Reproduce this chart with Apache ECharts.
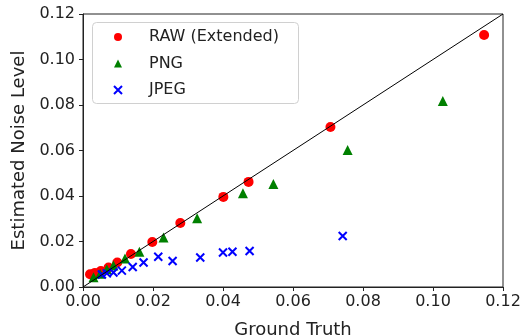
<!DOCTYPE html>
<html><head><meta charset="utf-8">
<script src="https://cdn.jsdelivr.net/npm/echarts@6/dist/echarts.min.js"></script>
<style>html,body{margin:0;padding:0;background:#fff}#c{width:526px;height:335px}</style>
</head><body><div id="c"></div>
<script>
var xTicks = [0, 0.02, 0.04, 0.06, 0.08, 0.10, 0.12];
var yTicks = [0, 0.02, 0.04, 0.06, 0.08, 0.10, 0.12];
var rawX = [0.0020, 0.0034, 0.0051, 0.0073, 0.0098, 0.0137, 0.0198, 0.0278, 0.0401, 0.0473, 0.0707, 0.1146];
var rawY = [0.0056, 0.0062, 0.0070, 0.0086, 0.0108, 0.0145, 0.0198, 0.0281, 0.0396, 0.0462, 0.0703, 0.1108];
var pngX = [0.0030, 0.0049, 0.0068, 0.0087, 0.0120, 0.0161, 0.0230, 0.0326, 0.0457, 0.0544, 0.0756, 0.1028];
var pngY = [0.0043, 0.0058, 0.0078, 0.0095, 0.0125, 0.0155, 0.0218, 0.0302, 0.0412, 0.0453, 0.0602, 0.0818];
var jpgX = [0.0054, 0.0068, 0.0087, 0.0111, 0.0142, 0.0173, 0.0215, 0.0256, 0.0335, 0.0400, 0.0427, 0.0476, 0.0742];
var jpgY = [0.0055, 0.0060, 0.0064, 0.0072, 0.0088, 0.0108, 0.0133, 0.0114, 0.0130, 0.0152, 0.0155, 0.0158, 0.0224];
var diagX = [0, 0.12];
var diagY = [0, 0.12];

function zip(a, b) { return a.map(function (v, i) { return [v, b[i]]; }); }
var FONT = 'DejaVu Sans';
var chart = echarts.init(document.getElementById('c'), null, {renderer: 'canvas'});
var xSym = 'path://M0,0L10,10M10,0L0,10';
chart.setOption({
  animation: false,
  textStyle: {fontFamily: FONT},
  grid: {left: 83, right: 23, top: 14, bottom: 48, containLabel: false, outerBoundsMode: 'none',
         show: true, borderColor: '#222', borderWidth: 1, backgroundColor: 'transparent'},
  xAxis: {
    type: 'value', min: 0, max: 0.12, interval: 0.02,
    name: 'Ground Truth', nameLocation: 'middle', nameGap: 34,
    nameTextStyle: {fontFamily: FONT, fontSize: 18, color: '#222'},
    axisLine: {show: true, lineStyle: {color: '#222', width: 1}},
    axisTick: {show: true, inside: false, length: 4, lineStyle: {color: '#222'}},
    axisLabel: {fontFamily: FONT, fontSize: 16, color: '#222', margin: 7, formatter: function (v) { return v.toFixed(2); }},
    splitLine: {show: false}
  },
  yAxis: {
    type: 'value', min: 0, max: 0.12, interval: 0.02,
    name: 'Estimated Noise Level', nameLocation: 'middle', nameGap: 50,
    nameTextStyle: {fontFamily: FONT, fontSize: 18, color: '#222'},
    axisLine: {show: true, lineStyle: {color: '#222', width: 1}},
    axisTick: {show: true, inside: false, length: 4, lineStyle: {color: '#222'}},
    axisLabel: {fontFamily: FONT, fontSize: 16, color: '#222', margin: 8, formatter: function (v) { return v.toFixed(2); }},
    splitLine: {show: false}
  },
  legend: {
    orient: 'vertical', left: 113, top: 28, padding: 0,
    itemWidth: 8, itemHeight: 8, itemGap: 8.5,
    textStyle: {fontFamily: FONT, fontSize: 16, color: '#222', lineHeight: 18, padding: [0, 0, 0, 22]},
    data: [
      {name: 'RAW (Extended)', icon: 'circle', itemStyle: {color: 'red'}},
      {name: 'PNG', icon: 'triangle', itemStyle: {color: 'green'}},
      {name: 'JPEG', icon: xSym, itemStyle: {color: 'blue', borderColor: 'blue', borderWidth: 2}}
    ]
  },
  graphic: [{
    type: 'rect', left: 92, top: 22, shape: {width: 206, height: 81, r: 4},
    style: {fill: 'rgba(255,255,255,0.8)', stroke: '#d0d0d0', lineWidth: 1}, z: 0
  }],
  series: [
    {name: 'RAW (Extended)', type: 'scatter', data: zip(rawX, rawY), symbol: 'circle', symbolSize: 10,
     itemStyle: {color: 'red', opacity: 1}, z: 3},
    {name: 'PNG', type: 'scatter', data: zip(pngX, pngY), symbol: 'triangle', symbolSize: 10,
     itemStyle: {color: 'green', opacity: 1}, z: 3},
    {name: 'JPEG', type: 'scatter', data: zip(jpgX, jpgY), symbol: xSym, symbolSize: 8,
     itemStyle: {color: 'blue', borderColor: 'blue', borderWidth: 2, opacity: 1}, z: 3},
    {name: 'diag', type: 'line', data: zip(diagX, diagY), symbol: 'none', silent: true,
     lineStyle: {color: '#000', width: 1}, z: 4}
  ]
});
</script></body></html>
